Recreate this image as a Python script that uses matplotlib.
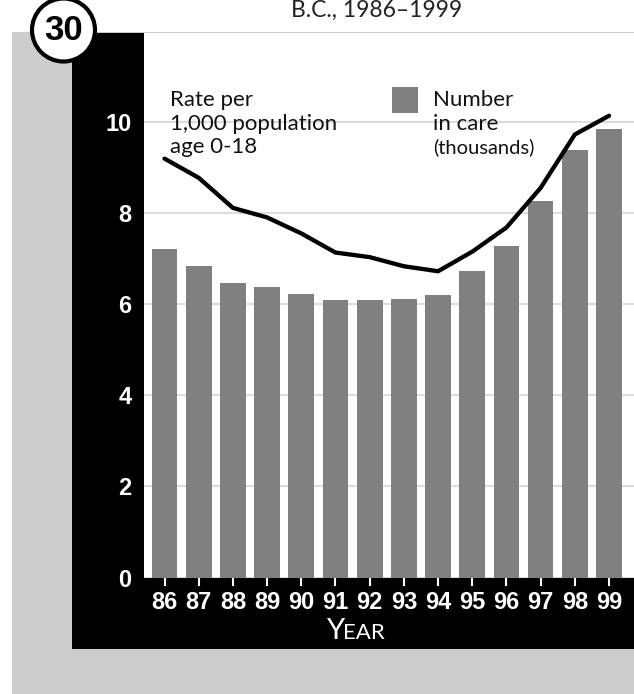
import matplotlib
matplotlib.use("Agg")
import matplotlib.pyplot as plt
from matplotlib.patches import Rectangle, Ellipse

# ---- data ----
years = ["86", "87", "88", "89", "90", "91", "92", "93", "94", "95", "96", "97", "98", "99"]
in_care = [7.2, 6.84, 6.47, 6.38, 6.23, 6.10, 6.10, 6.12, 6.20, 6.73, 7.28, 8.25, 9.39, 9.85]
rate = [9.19, 8.77, 8.11, 7.90, 7.55, 7.13, 7.03, 6.83, 6.72, 7.15, 7.68, 8.55, 9.72, 10.13]
yticks = [0, 2, 4, 6, 8, 10]

W, H = 634, 694
fig = plt.figure(figsize=(W / 100, H / 100), dpi=100, facecolor="white")


def fx(px):
    return px / W


def fy(py):
    return 1 - py / H


# background panels (light gray card + black frame)
fig.patches.append(Rectangle((fx(12), 0), fx(634) - fx(12), fy(32), transform=fig.transFigure,
                             facecolor="#cccccc", edgecolor="none", zorder=-2))
fig.patches.append(Rectangle((fx(72), fy(649)), fx(634) - fx(72), fy(33) - fy(649),
                             transform=fig.transFigure, facecolor="black", edgecolor="none", zorder=-1))

ax = fig.add_axes([fx(144), fy(577.7), 1 - fx(144), fy(33) - fy(577.7)], zorder=1)
ax.set_facecolor("white")
x = list(range(len(years)))
ax.bar(x, in_care, width=0.75, color="#808080", zorder=2)
ax.plot(x, rate, color="black", lw=3.1, solid_joinstyle="round", solid_capstyle="round", zorder=3)

ax.set_xlim(-0.6, 13.73)
ax.set_ylim(0, 11.945)
ax.set_yticks(yticks)
ax.set_xticks(x)
ax.set_xticklabels(years)
ax.yaxis.grid(True, color="#dcdcdc", lw=1.5, zorder=0)
ax.set_axisbelow(True)
for s in ax.spines.values():
    s.set_visible(False)
ax.tick_params(axis="x", direction="out", length=5.8, width=1.5, color="white", pad=4,
               labelcolor="white", labelsize=17)
ax.tick_params(axis="y", length=0, pad=9, labelcolor="white", labelsize=17)
for lab in ax.get_xticklabels() + ax.get_yticklabels():
    lab.set_fontfamily(["Liberation Sans", "DejaVu Sans"])
    lab.set_fontweight("bold")

# axis title in small caps
fig.text(fx(344), fy(639), "Y", color="white", fontsize=21, family="Lato", ha="right", va="baseline", zorder=5)
fig.text(fx(343), fy(639), "EAR", color="white", fontsize=16, family="Lato", ha="left", va="baseline", zorder=5)

# title (top, partly cut off in the source)
fig.text(fx(377), fy(17), "B.C., 1986–1999", color="#222222", fontsize=16.5, family="Lato",
         ha="center", va="baseline", zorder=5)

# legend
for txt, yb in [("Rate per", 106), ("1,000 population", 130), ("age 0-18", 153)]:
    fig.text(fx(170), fy(yb), txt, fontsize=16, family="Lato", color="#111111", va="baseline", zorder=5)
fig.patches.append(Rectangle((fx(392), fy(113)), fx(418) - fx(392), fy(87) - fy(113),
                             transform=fig.transFigure, facecolor="#808080", edgecolor="none", zorder=5))
fig.text(fx(433), fy(106), "Number", fontsize=16, family="Lato", color="#111111", va="baseline", zorder=5)
fig.text(fx(433), fy(130), "in care", fontsize=16, family="Lato", color="#111111", va="baseline", zorder=5)
fig.text(fx(433), fy(153), "(thousands)", fontsize=14.5, family="Lato", color="#111111", va="baseline", zorder=5)

# chart number badge
fig.patches.append(Ellipse((fx(63.5), fy(30)), 63 / W, 63 / H, transform=fig.transFigure,
                           facecolor="white", edgecolor="black", lw=3, zorder=6))
fig.text(fx(63.5), fy(40), "30", fontsize=25, fontweight="bold", family=["Liberation Sans", "DejaVu Sans"],
         color="black", ha="center", va="baseline", zorder=7)

fig.savefig("out.png", dpi=100, facecolor="white")
